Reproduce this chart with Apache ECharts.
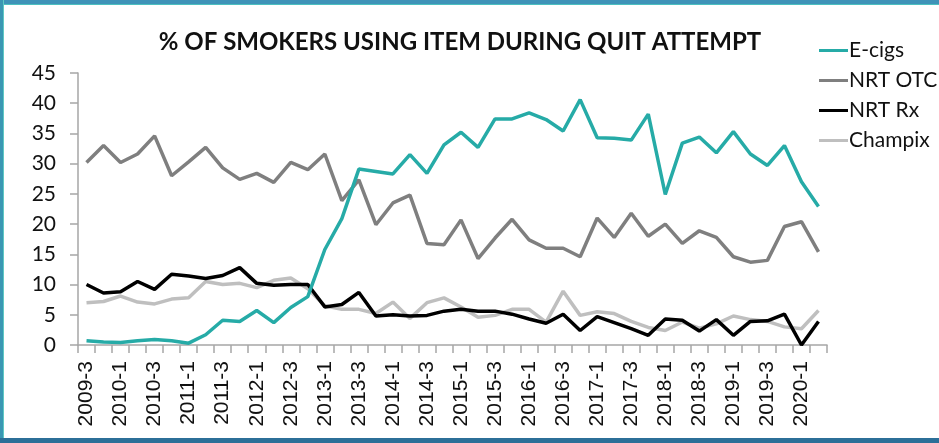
<!DOCTYPE html>
<html>
<head>
<meta charset="utf-8">
<script src="https://cdn.jsdelivr.net/npm/echarts@6/dist/echarts.min.js"></script>
<style>
html,body{margin:0;padding:0;background:#fff;}
#c{width:939px;height:443px;}
</style>
</head>
<body>
<div id="c"></div>
<script>
const titleText = '% OF SMOKERS USING ITEM DURING QUIT ATTEMPT';
const categories = [
 '2009-3','2009-4',
 '2010-1','2010-2','2010-3','2010-4',
 '2011-1','2011-2','2011-3','2011-4',
 '2012-1','2012-2','2012-3','2012-4',
 '2013-1','2013-2','2013-3','2013-4',
 '2014-1','2014-2','2014-3','2014-4',
 '2015-1','2015-2','2015-3','2015-4',
 '2016-1','2016-2','2016-3','2016-4',
 '2017-1','2017-2','2017-3','2017-4',
 '2018-1','2018-2','2018-3','2018-4',
 '2019-1','2019-2','2019-3','2019-4',
 '2020-1','2020-2'
];
const seriesNames = ['E-cigs','NRT OTC','NRT Rx','Champix'];
const ecigs = [0.7,0.5,0.4,0.7,0.9,0.7,0.3,1.7,4.1,3.9,5.7,3.7,6.2,8.0,15.8,20.9,29.1,28.7,28.3,31.5,28.4,33.1,35.2,32.7,37.4,37.4,38.4,37.3,35.4,40.6,34.3,34.2,33.9,38.2,24.9,33.4,34.4,31.8,35.3,31.6,29.7,33.0,27.0,22.9];
const nrtOtc = [30.2,33.0,30.2,31.6,34.6,28.0,30.3,32.7,29.3,27.4,28.4,26.9,30.2,29.0,31.6,23.9,27.3,19.9,23.5,24.8,16.8,16.6,20.7,14.3,17.7,20.8,17.4,16.0,16.0,14.6,21.0,17.8,21.8,18.0,20.0,16.8,18.9,17.8,14.6,13.7,14.0,19.6,20.4,15.4];
const nrtRx = [10.0,8.6,8.8,10.5,9.2,11.7,11.4,11.0,11.5,12.8,10.2,9.9,10.0,10.0,6.3,6.7,8.7,4.8,5.0,4.8,4.9,5.6,5.9,5.6,5.6,5.1,4.3,3.6,5.1,2.4,4.7,3.7,2.7,1.6,4.3,4.1,2.3,4.2,1.6,3.9,4.0,5.1,0.0,3.9];
const champix = [7.0,7.2,8.1,7.1,6.8,7.6,7.8,10.5,10.0,10.2,9.5,10.7,11.1,9.3,6.5,5.9,5.9,5.2,7.1,4.4,7.0,7.8,6.3,4.6,4.9,5.9,5.9,3.8,8.9,4.9,5.5,5.2,3.9,2.9,2.4,3.8,2.8,3.5,4.8,4.2,3.9,3.0,2.7,5.7];
const yTicks = {min:0, max:45, interval:5};

const colors = ['#26aba7','#7f7f7f','#000000','#bfbfbf'];
const dataSets = [ecigs, nrtOtc, nrtRx, champix];

const chart = echarts.init(document.getElementById('c'));
chart.setOption({
  animation:false,
  backgroundColor:'#ffffff',
  title:{
    text:titleText,
    left:455, top:25, textAlign:'center',
    textStyle:{fontFamily:'Lato', fontSize:24, fontWeight:'bold', color:'#111111'}
  },
  legend:{
    orient:'vertical',
    left:814, top:35,
    itemWidth:29, itemHeight:3, itemGap:9,
    data:seriesNames.map((n,i)=>({name:n, icon:'rect', itemStyle:{color:colors[i]}})),
    textStyle:{fontFamily:'Lato', fontSize:21, lineHeight:21, color:'#111111', padding:[0,0,0,-4]}
  },
  graphic:[
    {type:'rect', shape:{x:0,y:0,width:939,height:4}, style:{fill:'#3f93b8'}},
    {type:'rect', shape:{x:0,y:4,width:939,height:1}, style:{fill:'#4cc0c0'}},
    {type:'rect', shape:{x:0,y:0,width:3,height:443}, style:{fill:'#3a97b3'}},
    {type:'rect', shape:{x:3,y:0,width:1,height:443}, style:{fill:'#5fc9c4'}},
    {type:'rect', shape:{x:0,y:438,width:939,height:5}, style:{fill:'#2c6f98'}}
  ],
  grid:{left:78, top:73, width:749, height:272, containLabel:false},
  xAxis:{
    type:'category',
    data:categories,
    boundaryGap:true,
    axisLine:{lineStyle:{color:'#a6a6a6', width:1.5}},
    axisTick:{show:true, interval:0, length:8, lineStyle:{color:'#a6a6a6', width:1.5}},
    axisLabel:{interval:1, rotate:90, margin:16, fontFamily:'Liberation Sans', fontSize:21, color:'#111111'},
    splitLine:{show:false}
  },
  yAxis:{
    type:'value',
    min:yTicks.min, max:yTicks.max, interval:yTicks.interval,
    axisLine:{show:true, lineStyle:{color:'#a6a6a6', width:1.5}},
    axisTick:{show:true, inside:false, length:8, lineStyle:{color:'#a6a6a6', width:1.5}},
    axisLabel:{margin:22, fontFamily:'Lato', fontSize:21, color:'#111111'},
    splitLine:{show:false}
  },
  series: seriesNames.map((n,i)=>({
    name:n, type:'line', data:dataSets[i],
    symbol:'none', smooth:false,
    lineStyle:{color:colors[i], width:3.5},
    itemStyle:{color:colors[i]},
    z: [5,3,4,2][i]
  }))
});
</script>
</body>
</html>
